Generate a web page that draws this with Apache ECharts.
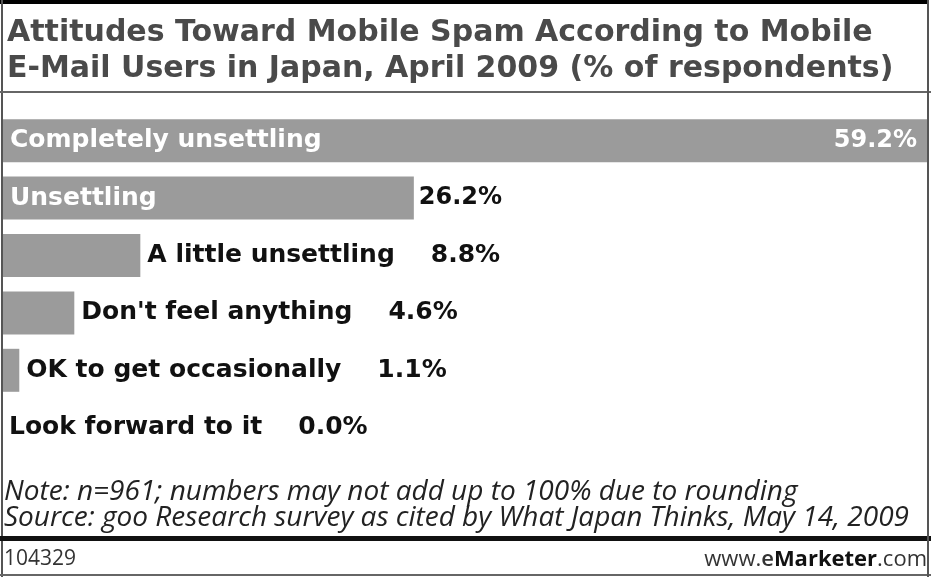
<!DOCTYPE html>
<html>
<head>
<meta charset="utf-8">
<script src="https://cdn.jsdelivr.net/npm/echarts@6/dist/echarts.min.js"></script>
<style>
html,body{margin:0;padding:0;background:#fff;}
#chart{width:931px;height:577px;}
</style>
</head>
<body>
<div id="chart"></div>
<script>
const titleLines = ['Attitudes Toward Mobile Spam According to Mobile', 'E-Mail Users in Japan, April 2009 (% of respondents)'];
const categories = ['Completely unsettling', 'Unsettling', 'A little unsettling', "Don't feel anything", 'OK to get occasionally', 'Look forward to it'];
const values = [59.2, 26.2, 8.8, 4.6, 1.1, 0.0];
const noteLines = ['Note: n=961; numbers may not add up to 100% due to rounding', 'Source: goo Research survey as cited by What Japan Thinks, May 14, 2009'];
const chartId = '104329';

const BAR = '#9b9b9b';
const FS = 25;
const fmt = v => v.toFixed(1) + '%';

const chart = echarts.init(document.getElementById('chart'), null, {renderer: 'canvas'});

const mainData = values.map((v, i) => {
  const d = {value: v};
  if (i < 2) {
    d.label = {show: true, position: 'insideLeft', distance: 8, formatter: categories[i], color: '#fff'};
  } else {
    d.label = {show: true, position: 'right', distance: 7, formatter: '{n|' + categories[i] + '}{v|' + fmt(v) + '}'};
  }
  return d;
});
const valData = values.map((v, i) => {
  const d = {value: v};
  if (i === 0) d.label = {show: true, position: 'insideRight', distance: 14, formatter: fmt(v), color: '#fff'};
  else if (i === 1) d.label = {show: true, position: 'right', distance: 5, formatter: fmt(v), color: '#111'};
  else d.label = {show: false};
  return d;
});

chart.setOption({
  animation: false,
  title: {
    text: titleLines.join('\n'),
    left: 2, top: 10,
    textStyle: {fontFamily: 'DejaVu Sans', fontWeight: 'bold', fontSize: 30, color: '#4a4a4a', lineHeight: 36}
  },
  grid: {left: 2, right: 0, top: 112, height: 344.4, containLabel: false},
  xAxis: {type: 'value', min: 0, max: 59.1, show: false},
  yAxis: {type: 'category', data: categories, inverse: true, show: false},
  series: [
    {
      type: 'bar', data: mainData, barWidth: 43, itemStyle: {color: BAR}, clip: true,
      label: {fontFamily: 'DejaVu Sans', fontWeight: 'bold', fontSize: FS, color: '#111',
        rich: {
          n: {fontFamily: 'DejaVu Sans', fontWeight: 'bold', fontSize: FS, color: '#111'},
          v: {fontFamily: 'DejaVu Sans', fontWeight: 'bold', fontSize: FS, color: '#111', padding: [0, 0, 0, 36]}
        }
      }
    },
    {
      type: 'bar', data: valData, barWidth: 43, barGap: '-100%', itemStyle: {color: 'rgba(0,0,0,0)'}, silent: true, z: 3,
      label: {fontFamily: 'DejaVu Sans', fontWeight: 'bold', fontSize: 24}
    }
  ],
  graphic: [
    {type: 'rect', shape: {x: 0, y: 0, width: 931, height: 4}, style: {fill: '#000'}, z: 10},
    {type: 'rect', shape: {x: 1, y: 0, width: 2, height: 577}, style: {fill: '#555'}, z: 10},
    {type: 'rect', shape: {x: 928, y: 0, width: 3, height: 577}, style: {fill: '#fff'}, z: 10},
    {type: 'rect', shape: {x: 927, y: 0, width: 2, height: 577}, style: {fill: '#555'}, z: 11},
    {type: 'rect', shape: {x: 0, y: 91, width: 931, height: 2}, style: {fill: '#666'}, z: 10},
    {type: 'text', left: 4, top: 478, style: {text: noteLines.join('\n'), font: 'italic 28px "Open Sans"', fill: '#222', lineHeight: 26}},
    {type: 'rect', shape: {x: 0, y: 536, width: 931, height: 5}, style: {fill: '#111'}, z: 10},
    {type: 'text', left: 4, top: 549, style: {text: chartId, font: '21px "Open Sans"', fill: '#333'}},
    {type: 'text', right: 4, top: 549, style: {
      text: '{a|www.}{b|e}{c|Marketer}{a|.com}',
      rich: {
        a: {font: '22px "Open Sans"', fill: '#333'},
        b: {font: '600 22px "Open Sans"', fill: '#333'},
        c: {font: 'bold 22px "Open Sans"', fill: '#111'}
      }
    }},
    {type: 'rect', shape: {x: 0, y: 574, width: 931, height: 2}, style: {fill: '#666'}, z: 10}
  ]
});
</script>
</body>
</html>
